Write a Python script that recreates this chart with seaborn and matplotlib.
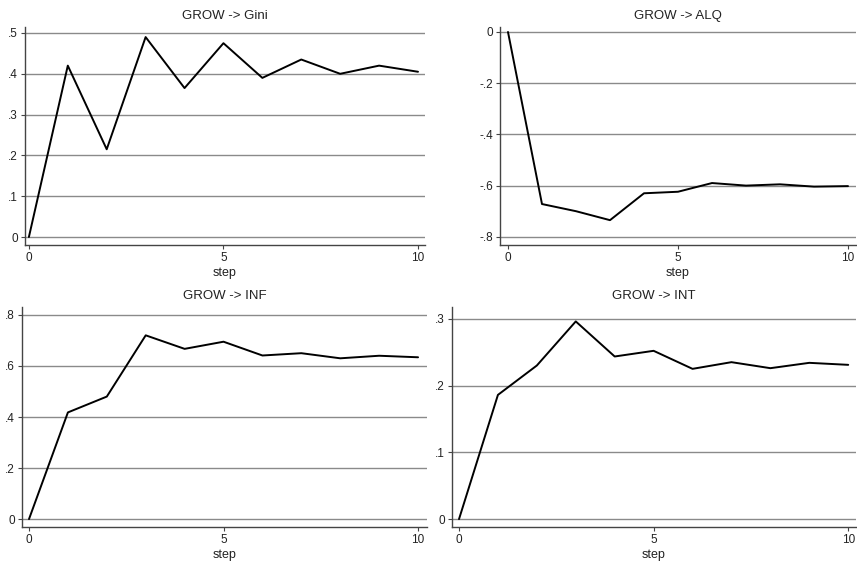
import numpy as np
import pandas as pd
import matplotlib
matplotlib.use("Agg")
import matplotlib.pyplot as plt
import seaborn as sns

steps = [0, 1, 2, 3, 4, 5, 6, 7, 8, 9, 10]
gini = [0.0, 0.42, 0.215, 0.49, 0.365, 0.475, 0.39, 0.435, 0.40, 0.42, 0.405]
alq = [0.0, -0.672, -0.70, -0.735, -0.63, -0.624, -0.59, -0.60, -0.595, -0.604, -0.602]
inf = [0.0, 0.418, 0.48, 0.72, 0.667, 0.695, 0.641, 0.65, 0.63, 0.64, 0.634]
intr = [0.0, 0.186, 0.23, 0.296, 0.2435, 0.252, 0.225, 0.235, 0.226, 0.234, 0.231]

titles = ["GROW -> Gini", "GROW -> ALQ", "GROW -> INF", "GROW -> INT"]
xticks = [0, 5, 10]
xticklabels = ["0", "5", "10"]
yticks_gini = [0, 0.1, 0.2, 0.3, 0.4, 0.5]
ylabels_gini = ["0", ".1", ".2", ".3", ".4", ".5"]
yticks_alq = [0, -0.2, -0.4, -0.6, -0.8]
ylabels_alq = ["0", "-.2", "-.4", "-.6", "-.8"]
yticks_inf = [0, 0.2, 0.4, 0.6, 0.8]
ylabels_inf = ["0", ".2", ".4", ".6", ".8"]
yticks_int = [0, 0.1, 0.2, 0.3]
ylabels_int = ["0", ".1", ".2", ".3"]

sns.set_theme(style="white")
plt.rcParams['font.family'] = ['Liberation Sans', 'DejaVu Sans']

W, H = 857, 564
fig = plt.figure(figsize=(W / 100, H / 100), dpi=100)

def px_axes(l, r, t, b):
    return fig.add_axes([l / W, 1 - b / H, (r - l) / W, (b - t) / H])

panels = [
    (px_axes(25, 425, 27, 245), gini, yticks_gini, ylabels_gini, (-0.1, 10.18), (-0.0196, 0.5147)),
    (px_axes(500, 856, 27, 245), alq, yticks_alq, ylabels_alq, (-0.235, 10.235), (-0.832, 0.0195)),
    (px_axes(22, 427, 307, 527), inf, yticks_inf, ylabels_inf, (-0.18, 10.23), (-0.031, 0.831)),
    (px_axes(452, 856, 307, 527), intr, yticks_int, ylabels_int, (-0.18, 10.2), (-0.0118, 0.3176)),
]

for (ax, vals, yt, yl, xlim, ylim), title in zip(panels, titles):
    df = pd.DataFrame({"step": steps, "val": vals})
    for y in yt:
        ax.axhline(y, color="#8a8a8a", lw=1.0, zorder=1)
    sns.lineplot(data=df, x="step", y="val", ax=ax, color="black", lw=1.4, zorder=3)
    ax.set_xlim(*xlim)
    ax.set_ylim(*ylim)
    ax.set_xticks(xticks)
    ax.set_xticklabels(xticklabels)
    ax.set_yticks(yt)
    ax.set_yticklabels(yl)
    ax.set_xlabel("step", fontsize=9, labelpad=2, color="#222222")
    ax.set_ylabel("")
    ax.set_title(title, fontsize=9.5, pad=6, color="#222222")
    for s in ["top", "right"]:
        ax.spines[s].set_visible(False)
    for s in ["left", "bottom"]:
        ax.spines[s].set_color("#444444")
        ax.spines[s].set_linewidth(1.0)
    ax.tick_params(axis="both", which="major", length=3, width=0.8, color="#444444",
                   labelsize=8.5, labelcolor="#222222", pad=2, direction="out",
                   bottom=True, left=True)

fig.savefig("out.png", dpi=100, facecolor="white")
